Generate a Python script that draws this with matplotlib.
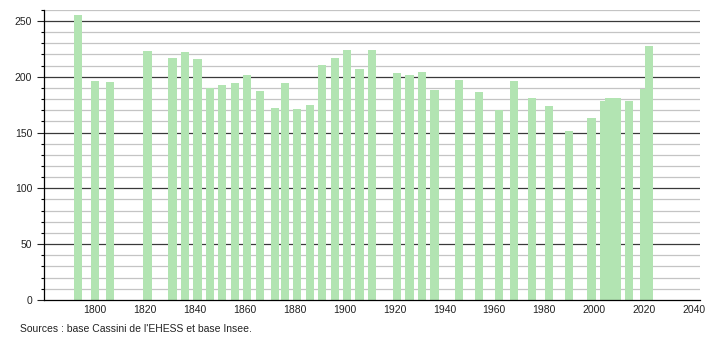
import matplotlib
matplotlib.use("Agg")
import matplotlib.pyplot as plt
from matplotlib.ticker import MultipleLocator

plt.rcParams['font.family'] = ['Liberation Sans', 'DejaVu Sans']

# census years and population
years = [1793, 1800, 1806, 1821, 1831, 1836, 1841, 1846, 1851, 1856,
         1861, 1866, 1872, 1876, 1881, 1886, 1891, 1896, 1901, 1906,
         1911, 1921, 1926, 1931, 1936, 1946, 1954, 1962, 1968, 1975,
         1982, 1990, 1999, 2004, 2006, 2007, 2008, 2009, 2014, 2020, 2022]
population = [255, 196, 195, 223, 217, 222, 216, 190, 193, 194,
              202, 187, 172, 194, 171, 175, 211, 217, 224, 207,
              224, 203, 202, 204, 188, 197, 186, 170, 196, 181,
              174, 151, 163, 178, 181, 181, 181, 181, 178, 189, 228]

x_ticks = [1800, 1820, 1840, 1860, 1880, 1900, 1920, 1940, 1960, 1980, 2000, 2020, 2040]
source = "Sources : base Cassini de l'EHESS et base Insee."

fig = plt.figure(figsize=(7.1, 3.4), dpi=100)
ax = fig.add_axes([0.062, 0.118, 0.924, 0.853])

# grid: light every 10, dark every 50
for v in range(10, 261, 10):
    if v % 50 == 0:
        ax.axhline(v, color='#3a3a3a', lw=0.9, zorder=1)
    else:
        ax.axhline(v, color='#c4c4c4', lw=0.9, zorder=1)

ax.bar(years, population, width=3.3, color='#b2e4b2', zorder=2)

ax.set_xlim(1779.5, 2042.5)
ax.set_ylim(0, 260)
ax.set_xticks(x_ticks)
ax.yaxis.set_major_locator(MultipleLocator(50))
ax.yaxis.set_minor_locator(MultipleLocator(10))

ax.tick_params(axis='x', length=0, labelsize=7.5, pad=4, colors='#222222')
ax.tick_params(axis='y', which='major', length=5, width=0.8, labelsize=7.5, colors='#222222')
ax.tick_params(axis='y', which='minor', length=2.5, width=0.8)

for s in ['top', 'right']:
    ax.spines[s].set_visible(False)
ax.spines['left'].set_color('black')
ax.spines['bottom'].set_color('black')
ax.spines['left'].set_linewidth(0.9)
ax.spines['bottom'].set_linewidth(0.9)

fig.text(20 / 710, 1 - 329 / 340, source, fontsize=7.5, color='#222222', va='center')

fig.savefig('out.png', dpi=100)
